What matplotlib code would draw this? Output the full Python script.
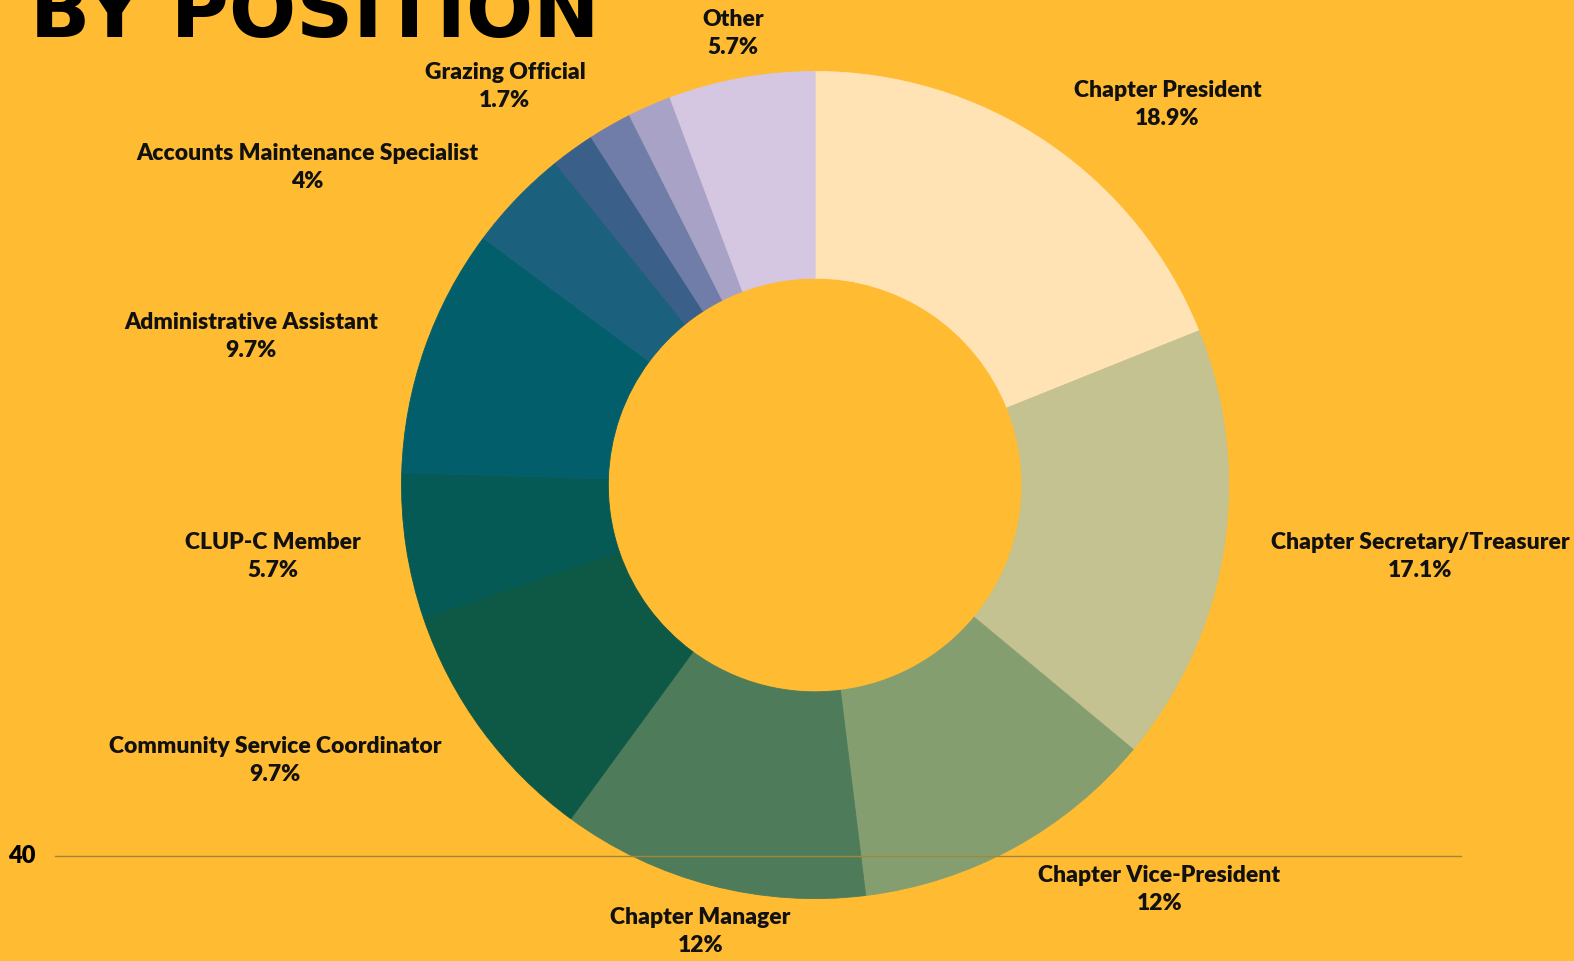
import matplotlib.pyplot as plt

plt.rcParams['font.family'] = ['Lato', 'DejaVu Sans']

positions = ['Chapter President', 'Chapter Secretary/Treasurer', 'Chapter Vice-President',
             'Chapter Manager', 'Community Service Coordinator', 'CLUP-C Member',
             'Administrative Assistant', 'Accounts Maintenance Specialist', '', '',
             'Grazing Official', 'Other']
shares = [18.9, 17.1, 12, 12, 9.7, 5.7, 9.7, 4, 1.7, 1.7, 1.7, 5.7]
pct_labels = ['18.9%', '17.1%', '12%', '12%', '9.7%', '5.7%', '9.7%', '4%', '', '',
              '1.7%', '5.7%']
colors = ['#ffe3b4', '#c3c290', '#859e70', '#4e7b5a', '#0e5846', '#055a56',
          '#035e6b', '#1b607d', '#3a5f88', '#6f7da8', '#a7a2c6', '#d5c6e2']

# label centres in pixels (x, y of the two-line block) of the 1568x957 frame
label_xy = [(1163, 104), (1415, 554), (1155, 886), (698, 928), (274, 757),
            (272, 554), (250, 335), (306, 167), None, None, (503, 86), (730, 33)]

bg = '#ffbb31'
W, H = 1568, 957
fig = plt.figure(figsize=(15.74, 9.61), dpi=100, facecolor=bg)

# faint gridline of the chart behind
fig.add_artist(plt.Line2D([55 / W, 1455 / W], [1 - 852 / H] * 2, color='#a0883a', lw=1))
fig.text(8 / W, 1 - 852 / H, '40', fontsize=17, fontweight='heavy', va='center', ha='left')

cx, cy, r = 812, 483, 412
ax = fig.add_axes([(cx - r) / W, 1 - (cy + r) / H, 2 * r / W, 2 * r / H])
ax.set_facecolor(bg)
wedges, _ = ax.pie(shares, colors=colors, startangle=90, counterclock=False,
                   wedgeprops=dict(width=0.5, linewidth=0.6))
for w, c in zip(wedges, colors):
    w.set_edgecolor(c)
ax.set_xlim(-1, 1)
ax.set_ylim(-1, 1)
ax.axis('off')

for name, pct, xy in zip(positions, pct_labels, label_xy):
    if xy is None:
        continue
    fig.text(xy[0] / W, 1 - xy[1] / H, name + '\n' + pct, ha='center', va='center',
             fontsize=16.5, fontweight='heavy', linespacing=1.42, color='#111111')

fig.text(30 / W, 1 - 37 / H, 'BY POSITION', fontsize=57, fontweight='bold',
         ha='left', va='baseline', family='DejaVu Sans')

plt.savefig('out.png', dpi=100, facecolor=bg)
